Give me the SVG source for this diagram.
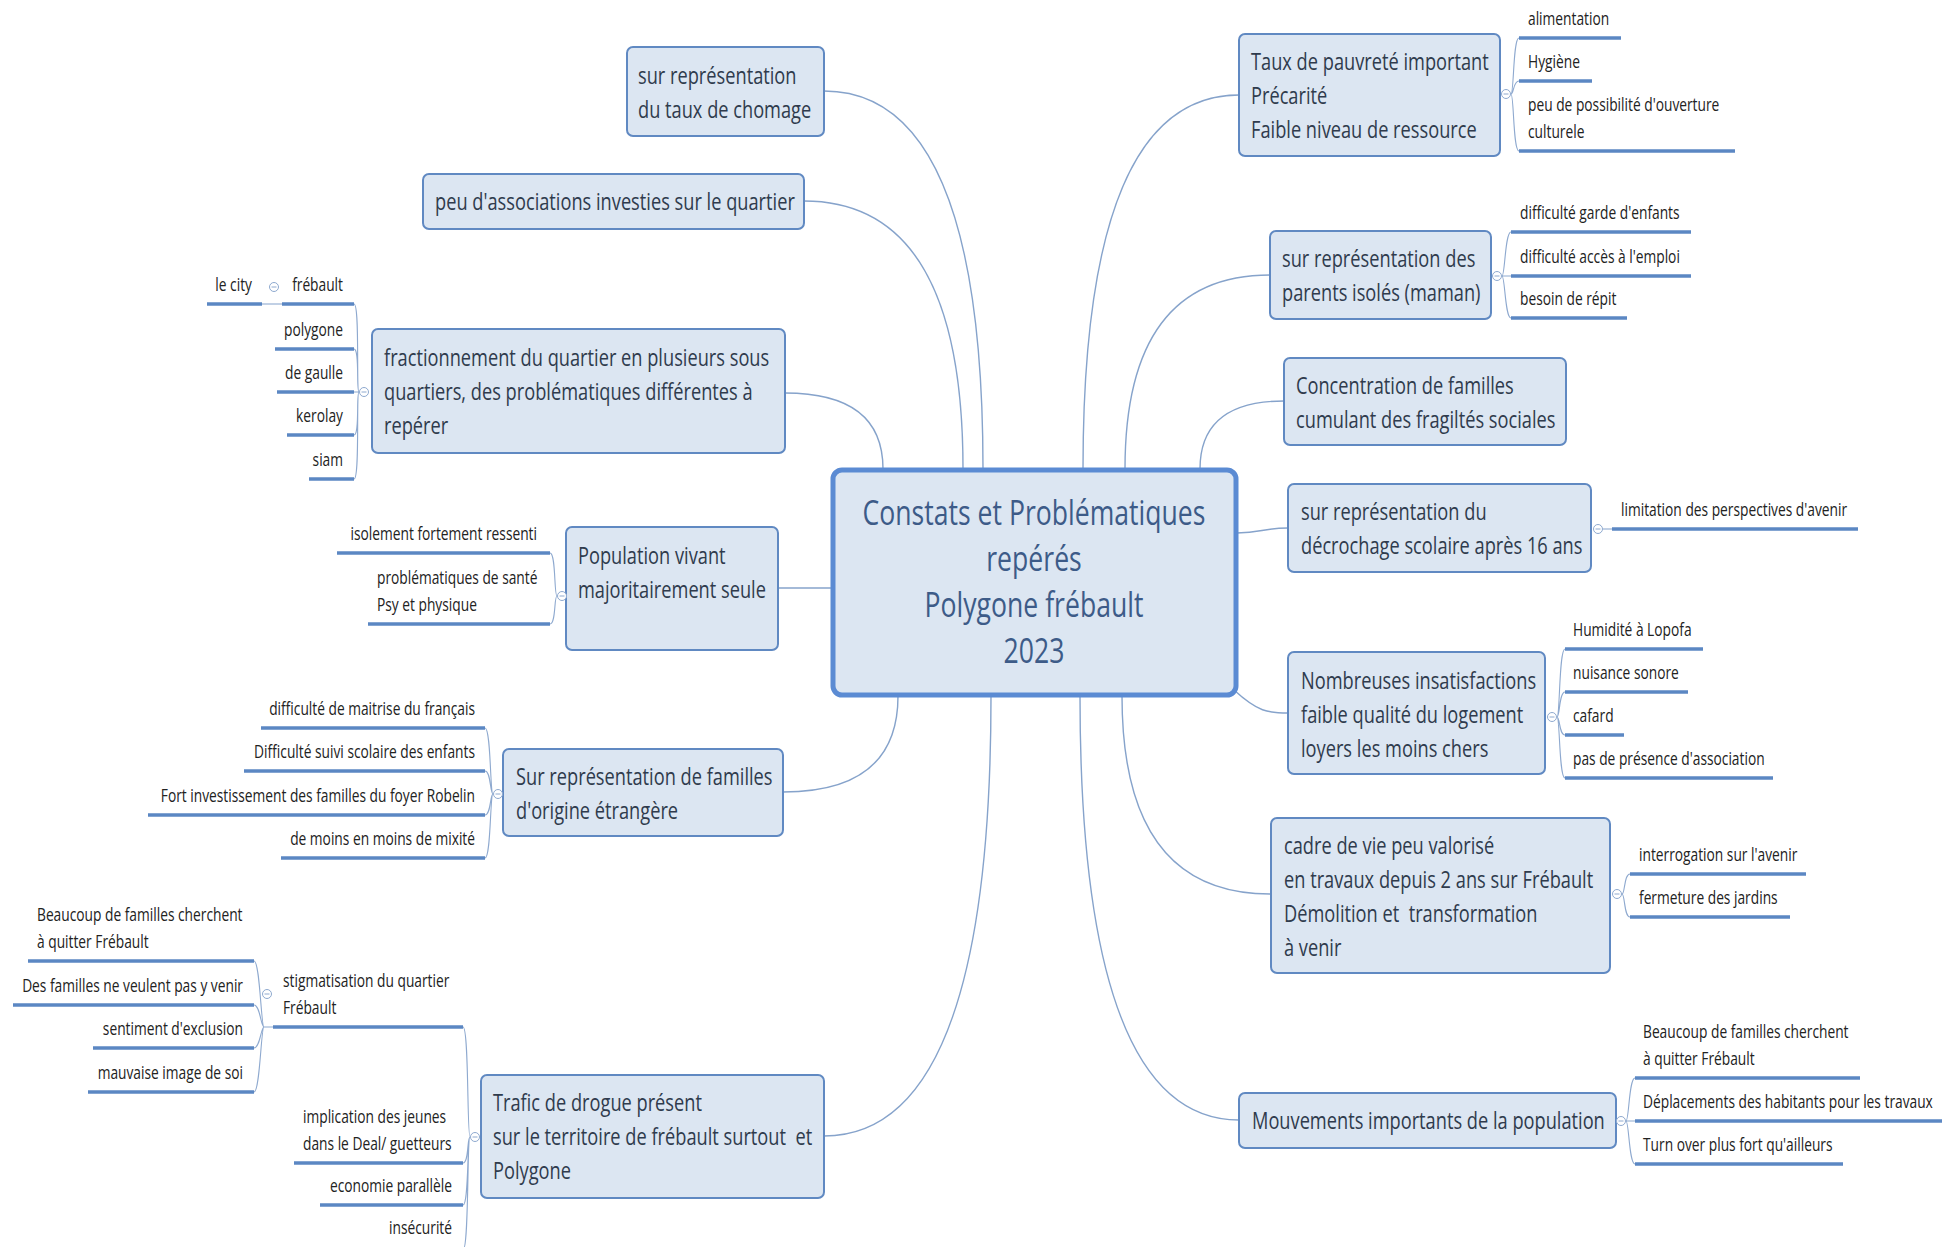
<svg xmlns="http://www.w3.org/2000/svg" width="1955" height="1247" viewBox="0 0 1955 1247">
<style>
.conn{fill:none;stroke:#86a3cb;stroke-width:1.4}
.sc{fill:none;stroke:#8ea9cf;stroke-width:1.1}
.ul{stroke:#5b87c3;stroke-width:3.5}
.box{fill:#dce6f2;stroke:#6089c2;stroke-width:2}
.central{fill:#dce6f2;stroke:#5b8bd3;stroke-width:5}
.t{font-family:"Open Sans",sans-serif;font-size:24px;fill:#2f3b4d}
.s{font-family:"Open Sans",sans-serif;font-size:18px;fill:#222}
.e{text-anchor:end}
.c{font-family:"Open Sans",sans-serif;font-size:35px;fill:#3d5b88;text-anchor:middle}
.tog{fill:#fff;stroke:#8ea9cf;stroke-width:1}
</style>
<defs>
<g id="tg"><circle class="tog" r="4.5"/><line x1="-2.5" x2="2.5" y1="0" y2="0" stroke="#8ea9cf" stroke-width="1"/></g>
</defs>
<rect width="1955" height="1247" fill="#fff"/>

<g id="connectors">
<path class="conn" d="M983,469 Q983,91 824,91"/>
<path class="conn" d="M963,469 Q963,201 804,201"/>
<path class="conn" d="M883,469 Q883,393 785,393"/>
<path class="conn" d="M832,588 L778,588"/>
<path class="conn" d="M898,696 Q898,792 783,792"/>
<path class="conn" d="M991,696 Q991,1136 824,1136"/>
<path class="conn" d="M1083,469 Q1083,95 1239,95"/>
<path class="conn" d="M1125,469 Q1125,275 1270,275"/>
<path class="conn" d="M1200,469 Q1200,401 1284,401"/>
<path class="conn" d="M1237,533 C1262,533 1262,528 1288,528"/>
<path class="conn" d="M1234,690 C1258,712 1268,713 1288,713"/>
<path class="conn" d="M1122,696 Q1122,894 1270,894"/>
<path class="conn" d="M1080,696 Q1080,1120 1239,1120"/>
<path class="sc" d="M1511,94 C1514,94 1513,38 1519,38 M1511,94 C1514,94 1513,81 1519,81 M1511,94 C1514,94 1513,151 1519,151"/>
<path class="sc" d="M1502,276 C1505,276 1505,232 1511,232 M1502,276 L1511,276 M1502,276 C1505,276 1505,318 1511,318"/>
<path class="sc" d="M1603,529 L1612,529"/>
<path class="sc" d="M1557,717 C1560,717 1559,649 1565,649 M1557,717 C1560,717 1559,692 1565,692 M1557,717 C1560,717 1559,735 1565,735 M1557,717 C1560,717 1559,778 1565,778"/>
<path class="sc" d="M1622,894 C1625,894 1624,874 1630,874 M1622,894 C1625,894 1624,917 1630,917"/>
<path class="sc" d="M1626,1121 C1629,1121 1629,1078 1635,1078 M1626,1121 L1635,1121 M1626,1121 C1629,1121 1629,1164 1635,1164"/>
<path class="sc" d="M359,392 C356,392 360,304 354,304 M359,392 C356,392 360,349 354,349 M359,392 L354,392 M359,392 C356,392 360,435 354,435 M359,392 C356,392 360,479 354,479"/>
<path class="sc" d="M262,304 L282,304"/>
<path class="sc" d="M557,596 C554,596 556,553 550,553 M557,596 C554,596 556,624 550,624"/>
<path class="sc" d="M493,794 C490,794 491,728 485,728 M493,794 C490,794 491,771 485,771 M493,794 C490,794 491,815 485,815 M493,794 C490,794 491,858 485,858"/>
<path class="sc" d="M470,1137 C467,1137 469,1027 463,1027 M470,1137 C467,1137 469,1163 463,1163 M470,1137 C467,1137 469,1205 463,1205 M470,1137 C467,1137 469,1250 463,1250"/>
<path class="sc" d="M273,1027 L264,1027 C261,1027 260,961 254,961 M264,1027 C261,1027 260,1005 254,1005 M264,1027 C261,1027 260,1048 254,1048 M264,1027 C261,1027 260,1092 254,1092"/>
</g>

<g id="central">
<rect class="central" x="833" y="470" width="403" height="225" rx="9"/>
<text class="c" transform="matrix(.76 0 0 1 1034 0)"><tspan x="0" y="525">Constats et Problématiques</tspan><tspan x="0" y="571">repérés</tspan><tspan x="0" y="617">Polygone frébault</tspan><tspan x="0" y="663">2023</tspan></text>
</g>

<g id="n-chomage">
<rect class="box" x="627" y="47" width="197" height="89" rx="6"/>
<text class="t" transform="matrix(.76 0 0 1 638 0)"><tspan x="0" y="84">sur représentation</tspan><tspan x="0" y="118">du taux de chomage</tspan></text>
</g>

<g id="n-associations">
<rect class="box" x="423" y="174" width="381" height="55" rx="6"/>
<text class="t" transform="matrix(.76 0 0 1 435 0)" y="210">peu d'associations investies sur le quartier</text>
</g>

<g id="n-fractionnement">
<rect class="box" x="372" y="329" width="413" height="124" rx="6"/>
<text class="t" transform="matrix(.76 0 0 1 384 0)"><tspan x="0" y="366">fractionnement du quartier en plusieurs sous</tspan><tspan x="0" y="400">quartiers, des problématiques différentes à</tspan><tspan x="0" y="434">repérer</tspan></text>
<use href="#tg" x="364" y="392"/>
<line class="ul" x1="282" y1="304" x2="354" y2="304"/>
<text class="s e" transform="matrix(.765 0 0 1 343 0)" y="291">frébault</text>
<line class="ul" x1="275" y1="349" x2="354" y2="349"/>
<text class="s e" transform="matrix(.765 0 0 1 343 0)" y="336">polygone</text>
<line class="ul" x1="277" y1="392" x2="354" y2="392"/>
<text class="s e" transform="matrix(.765 0 0 1 343 0)" y="379">de gaulle</text>
<line class="ul" x1="287" y1="435" x2="354" y2="435"/>
<text class="s e" transform="matrix(.765 0 0 1 343 0)" y="422">kerolay</text>
<line class="ul" x1="309" y1="479" x2="354" y2="479"/>
<text class="s e" transform="matrix(.765 0 0 1 343 0)" y="466">siam</text>
<use href="#tg" x="274" y="287"/>
<line class="ul" x1="207" y1="304" x2="262" y2="304"/>
<text class="s e" transform="matrix(.765 0 0 1 252 0)" y="291">le city</text>
</g>

<g id="n-population">
<rect class="box" x="566" y="527" width="212" height="123" rx="6"/>
<text class="t" transform="matrix(.76 0 0 1 578 0)"><tspan x="0" y="564">Population vivant</tspan><tspan x="0" y="598">majoritairement seule</tspan></text>
<use href="#tg" x="562" y="596"/>
<line class="ul" x1="337" y1="553" x2="550" y2="553"/>
<text class="s e" transform="matrix(.765 0 0 1 537 0)" y="540">isolement fortement ressenti</text>
<line class="ul" x1="368" y1="624" x2="550" y2="624"/>
<text class="s" transform="matrix(.765 0 0 1 377 0)"><tspan x="0" y="584">problématiques de santé</tspan><tspan x="0" y="611">Psy et physique</tspan></text>
</g>

<g id="n-etrangere">
<rect class="box" x="503" y="749" width="280" height="87" rx="6"/>
<text class="t" transform="matrix(.76 0 0 1 516 0)"><tspan x="0" y="785">Sur représentation de familles</tspan><tspan x="0" y="819">d'origine étrangère</tspan></text>
<use href="#tg" x="498" y="794"/>
<line class="ul" x1="261" y1="728" x2="485" y2="728"/>
<text class="s e" transform="matrix(.765 0 0 1 475 0)" y="715">difficulté de maitrise du français</text>
<line class="ul" x1="244" y1="771" x2="485" y2="771"/>
<text class="s e" transform="matrix(.765 0 0 1 475 0)" y="758">Difficulté suivi scolaire des enfants</text>
<line class="ul" x1="148" y1="815" x2="485" y2="815"/>
<text class="s e" transform="matrix(.765 0 0 1 475 0)" y="802">Fort investissement des familles du foyer Robelin</text>
<line class="ul" x1="281" y1="858" x2="485" y2="858"/>
<text class="s e" transform="matrix(.765 0 0 1 475 0)" y="845">de moins en moins de mixité</text>
</g>

<g id="n-trafic">
<rect class="box" x="481" y="1075" width="343" height="123" rx="6"/>
<text class="t" transform="matrix(.76 0 0 1 493 0)" xml:space="preserve"><tspan x="0" y="1111">Trafic de drogue présent</tspan><tspan x="0" y="1145">sur le territoire de frébault surtout  et</tspan><tspan x="0" y="1179">Polygone</tspan></text>
<use href="#tg" x="475" y="1137"/>
<line class="ul" x1="273" y1="1027" x2="463" y2="1027"/>
<text class="s" transform="matrix(.765 0 0 1 283 0)"><tspan x="0" y="987">stigmatisation du quartier</tspan><tspan x="0" y="1014">Frébault</tspan></text>
<use href="#tg" x="267" y="994"/>
<line class="ul" x1="294" y1="1163" x2="463" y2="1163"/>
<text class="s" transform="matrix(.765 0 0 1 303 0)"><tspan x="0" y="1123">implication des jeunes</tspan><tspan x="0" y="1150">dans le Deal/ guetteurs</tspan></text>
<line class="ul" x1="320" y1="1205" x2="463" y2="1205"/>
<text class="s e" transform="matrix(.765 0 0 1 452 0)" y="1192">economie parallèle</text>
<text class="s e" transform="matrix(.765 0 0 1 452 0)" y="1234">insécurité</text>
<line class="ul" x1="28" y1="961" x2="254" y2="961"/>
<text class="s" transform="matrix(.765 0 0 1 37 0)"><tspan x="0" y="921">Beaucoup de familles cherchent</tspan><tspan x="0" y="948">à quitter Frébault</tspan></text>
<line class="ul" x1="13" y1="1005" x2="254" y2="1005"/>
<text class="s e" transform="matrix(.765 0 0 1 243 0)" y="992">Des familles ne veulent pas y venir</text>
<line class="ul" x1="93" y1="1048" x2="254" y2="1048"/>
<text class="s e" transform="matrix(.765 0 0 1 243 0)" y="1035">sentiment d'exclusion</text>
<line class="ul" x1="88" y1="1092" x2="254" y2="1092"/>
<text class="s e" transform="matrix(.765 0 0 1 243 0)" y="1079">mauvaise image de soi</text>
</g>

<g id="n-pauvrete">
<rect class="box" x="1239" y="34" width="261" height="122" rx="6"/>
<text class="t" transform="matrix(.76 0 0 1 1251 0)"><tspan x="0" y="70">Taux de pauvreté important</tspan><tspan x="0" y="104">Précarité</tspan><tspan x="0" y="138">Faible niveau de ressource</tspan></text>
<use href="#tg" x="1506" y="94"/>
<line class="ul" x1="1519" y1="38" x2="1621" y2="38"/>
<text class="s" transform="matrix(.765 0 0 1 1528 0)" y="25">alimentation</text>
<line class="ul" x1="1519" y1="81" x2="1592" y2="81"/>
<text class="s" transform="matrix(.765 0 0 1 1528 0)" y="68">Hygiène</text>
<line class="ul" x1="1519" y1="151" x2="1735" y2="151"/>
<text class="s" transform="matrix(.765 0 0 1 1528 0)"><tspan x="0" y="111">peu de possibilité d'ouverture</tspan><tspan x="0" y="138">culturele</tspan></text>
</g>

<g id="n-parents">
<rect class="box" x="1270" y="231" width="221" height="88" rx="6"/>
<text class="t" transform="matrix(.76 0 0 1 1282 0)"><tspan x="0" y="267">sur représentation des</tspan><tspan x="0" y="301">parents isolés (maman)</tspan></text>
<use href="#tg" x="1497" y="276"/>
<line class="ul" x1="1511" y1="232" x2="1691" y2="232"/>
<text class="s" transform="matrix(.765 0 0 1 1520 0)" y="219">difficulté garde d'enfants</text>
<line class="ul" x1="1511" y1="276" x2="1691" y2="276"/>
<text class="s" transform="matrix(.765 0 0 1 1520 0)" y="263">difficulté accès à l'emploi</text>
<line class="ul" x1="1511" y1="318" x2="1627" y2="318"/>
<text class="s" transform="matrix(.765 0 0 1 1520 0)" y="305">besoin de répit</text>
</g>

<g id="n-concentration">
<rect class="box" x="1284" y="358" width="282" height="87" rx="6"/>
<text class="t" transform="matrix(.76 0 0 1 1296 0)"><tspan x="0" y="394">Concentration de familles</tspan><tspan x="0" y="428">cumulant des fragiltés sociales</tspan></text>
</g>

<g id="n-decrochage">
<rect class="box" x="1288" y="484" width="303" height="88" rx="6"/>
<text class="t" transform="matrix(.76 0 0 1 1301 0)"><tspan x="0" y="520">sur représentation du</tspan><tspan x="0" y="554">décrochage scolaire après 16 ans</tspan></text>
<use href="#tg" x="1598" y="529"/>
<line class="ul" x1="1612" y1="529" x2="1858" y2="529"/>
<text class="s" transform="matrix(.765 0 0 1 1621 0)" y="516">limitation des perspectives d'avenir</text>
</g>

<g id="n-logement">
<rect class="box" x="1288" y="652" width="257" height="122" rx="6"/>
<text class="t" transform="matrix(.76 0 0 1 1301 0)"><tspan x="0" y="689">Nombreuses insatisfactions</tspan><tspan x="0" y="723">faible qualité du logement</tspan><tspan x="0" y="757">loyers les moins chers</tspan></text>
<use href="#tg" x="1552" y="717"/>
<line class="ul" x1="1565" y1="649" x2="1703" y2="649"/>
<text class="s" transform="matrix(.765 0 0 1 1573 0)" y="636">Humidité à Lopofa</text>
<line class="ul" x1="1565" y1="692" x2="1688" y2="692"/>
<text class="s" transform="matrix(.765 0 0 1 1573 0)" y="679">nuisance sonore</text>
<line class="ul" x1="1565" y1="735" x2="1624" y2="735"/>
<text class="s" transform="matrix(.765 0 0 1 1573 0)" y="722">cafard</text>
<line class="ul" x1="1565" y1="778" x2="1773" y2="778"/>
<text class="s" transform="matrix(.765 0 0 1 1573 0)" y="765">pas de présence d'association</text>
</g>

<g id="n-cadre">
<rect class="box" x="1271" y="818" width="339" height="155" rx="6"/>
<text class="t" transform="matrix(.76 0 0 1 1284 0)" xml:space="preserve"><tspan x="0" y="854">cadre de vie peu valorisé</tspan><tspan x="0" y="888">en travaux depuis 2 ans sur Frébault</tspan><tspan x="0" y="922">Démolition et  transformation</tspan><tspan x="0" y="956">à venir</tspan></text>
<use href="#tg" x="1617" y="894"/>
<line class="ul" x1="1630" y1="874" x2="1806" y2="874"/>
<text class="s" transform="matrix(.765 0 0 1 1639 0)" y="861">interrogation sur l'avenir</text>
<line class="ul" x1="1630" y1="917" x2="1790" y2="917"/>
<text class="s" transform="matrix(.765 0 0 1 1639 0)" y="904">fermeture des jardins</text>
</g>

<g id="n-mouvements">
<rect class="box" x="1239" y="1093" width="377" height="55" rx="6"/>
<text class="t" transform="matrix(.76 0 0 1 1252 0)" y="1129">Mouvements importants de la population</text>
<use href="#tg" x="1621" y="1121"/>
<line class="ul" x1="1635" y1="1078" x2="1860" y2="1078"/>
<text class="s" transform="matrix(.765 0 0 1 1643 0)"><tspan x="0" y="1038">Beaucoup de familles cherchent</tspan><tspan x="0" y="1065">à quitter Frébault</tspan></text>
<line class="ul" x1="1635" y1="1121" x2="1942" y2="1121"/>
<text class="s" transform="matrix(.765 0 0 1 1643 0)" y="1108">Déplacements des habitants pour les travaux</text>
<line class="ul" x1="1635" y1="1164" x2="1843" y2="1164"/>
<text class="s" transform="matrix(.765 0 0 1 1643 0)" y="1151">Turn over plus fort qu'ailleurs</text>
</g>
</svg>
